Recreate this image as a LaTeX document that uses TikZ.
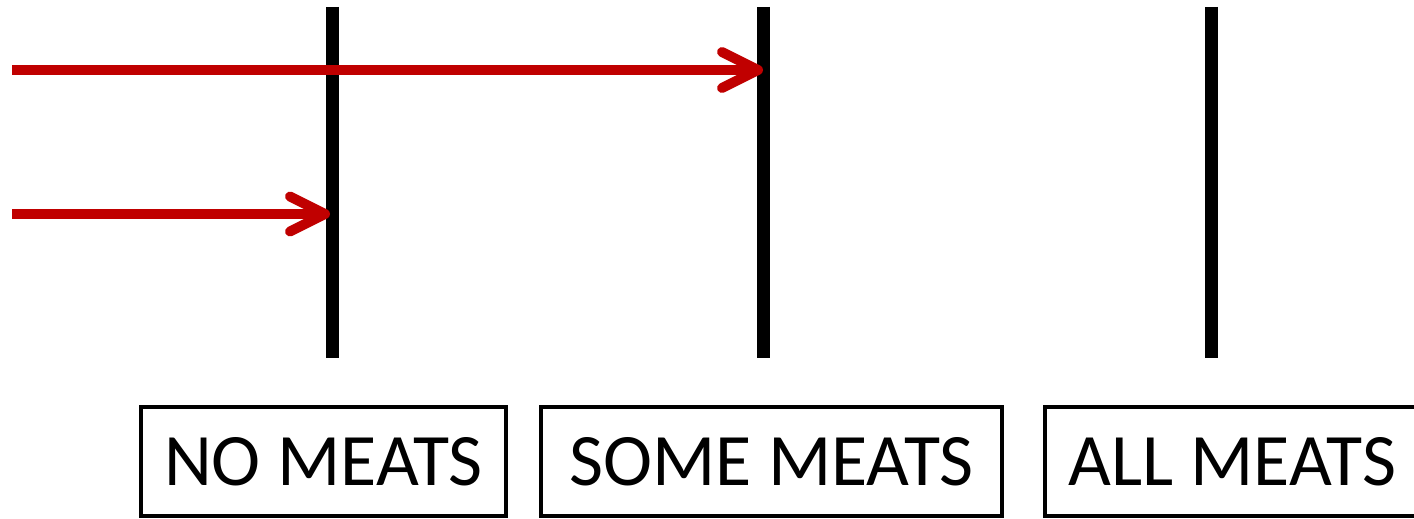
\documentclass[tikz,border=0pt]{standalone}
\usepackage{fontspec}
\setmainfont{Carlito}
\definecolor{arrowred}{HTML}{C00000}
\begin{document}
\begin{tikzpicture}[x=1pt,y=1pt,
  bar/.style={line width=13pt, black},
  redline/.style={line width=10pt, arrowred, line cap=round, line join=round},
  catbox/.style={draw, line width=4pt, minimum height=109pt, inner sep=0pt,
     font=\fontsize{74}{80}\selectfont},
]
\useasboundingbox (0,0) rectangle (1414,-519);
% vertical bars
\coordinate (b1t) at (332,-7);   \coordinate (b1b) at (332,-358);
\coordinate (b2t) at (763.5,-7); \coordinate (b2b) at (763.5,-358);
\coordinate (b3t) at (1211.5,-7);\coordinate (b3b) at (1211.5,-358);
\draw[bar] (b1t) -- (b1b);
\draw[bar] (b2t) -- (b2b);
\draw[bar] (b3t) -- (b3b);
% red arrows
\coordinate (s1) at (12,-70);  \coordinate (t1) at (758,-70);
\coordinate (s2) at (12,-214); \coordinate (t2) at (325,-214);
\draw[redline, line cap=butt] (s1) -- (t1);
\draw[redline] ([shift={(-36,18)}]t1) -- (t1) -- ([shift={(-36,-18)}]t1);
\draw[redline, line cap=butt] (s2) -- (t2);
\draw[redline] ([shift={(-35,17.5)}]t2) -- (t2) -- ([shift={(-35,-17.5)}]t2);
% boxes
\node[catbox, minimum width=365pt] (no) at (323.5,-461.5) {NO MEATS};
\node[catbox, minimum width=461pt] (some) at (771.5,-461.5) {SOME MEATS};
\node[catbox, minimum width=375pt] (all) at (1232.5,-461.5) {ALL MEATS};
\end{tikzpicture}
\end{document}
